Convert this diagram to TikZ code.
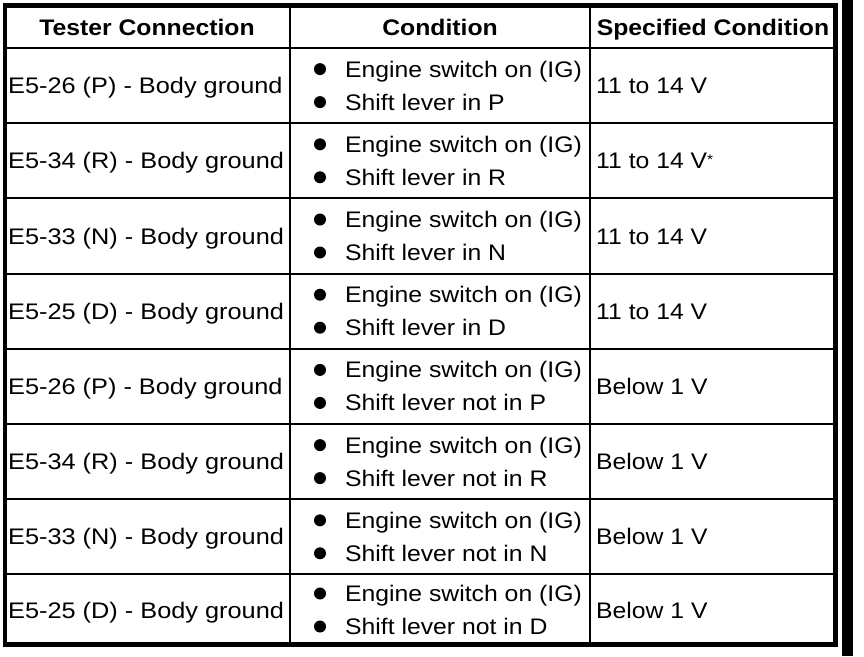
\documentclass[tikz,border=0pt]{standalone}
\usepackage{fontspec}
\setmainfont{Liberation Sans}[FakeStretch=1.1]
\newfontfamily\widef{Liberation Sans}[FakeStretch=1.125]
\begin{document}
\begin{tikzpicture}[x=1pt,y=-1pt,
  cell/.style={anchor=base west, inner sep=0pt, font=\fontsize{22.5}{27}\selectfont},
  conncell/.style={anchor=base west, inner sep=0pt, font=\widef\fontsize{22.5}{27}\selectfont},
  head/.style={anchor=base, inner sep=0pt, font=\bfseries\fontsize{22.5}{27}\selectfont},
  gridline/.style={line width=2pt},
  frameline/.style={line width=4.5pt},
  bullet/.style={circle, fill=black, inner sep=0pt, minimum size=12pt}]
\useasboundingbox (0,0) rectangle (864,656);
\fill[white] (0,0) rectangle (864,656);
% grid
\draw[gridline] (5,48) -- (835.5,48);
\foreach \yy in {123.2,198.4,273.6,348.8,424,499.2,574.4}
  \draw[gridline] (5,\yy) -- (835.5,\yy);
\draw[gridline] (290,5.5) -- (290,644.5);
\draw[gridline] (590,5.5) -- (590,644.5);
\draw[frameline] (5,5.5) rectangle (835.5,644.5);
\fill[black] (842,0) rectangle (853,656);
% header
\node[head] (h1) at (147,35.5) {Tester Connection};
\node[head] (h2) at (440,35.5) {Condition};
\node[head] (h3) at (713,35.5) {Specified Condition};
% rows
\foreach \i/\yc/\conn/\lev/\spec in {
 1/85.6/{E5-26 (P)}/{in P}/{11 to 14 V},
 2/160.8/{E5-34 (R)}/{in R}/{11 to 14 V\raisebox{4pt}{\fontsize{14}{14}\selectfont *}},
 3/236/{E5-33 (N)}/{in N}/{11 to 14 V},
 4/311.2/{E5-25 (D)}/{in D}/{11 to 14 V},
 5/386.4/{E5-26 (P)}/{not in P}/{Below 1 V},
 6/461.6/{E5-34 (R)}/{not in R}/{Below 1 V},
 7/536.8/{E5-33 (N)}/{not in N}/{Below 1 V},
 8/610/{E5-25 (D)}/{not in D}/{Below 1 V}}
{
 \node[conncell] (conn\i) at (8,\yc+8) {\conn{} - Body ground};
 \node[bullet] (ba\i) at (320,\yc-16.5) {};
 \node[bullet] (bb\i) at (320,\yc+16.5) {};
 \node[cell] (ign\i) at (345,\yc-8.5) {Engine switch on (IG)};
 \node[cell] (lev\i) at (345,\yc+24.5) {Shift lever \lev};
 \node[cell] (spec\i) at (596,\yc+8) {\spec};
}
\end{tikzpicture}
\end{document}
